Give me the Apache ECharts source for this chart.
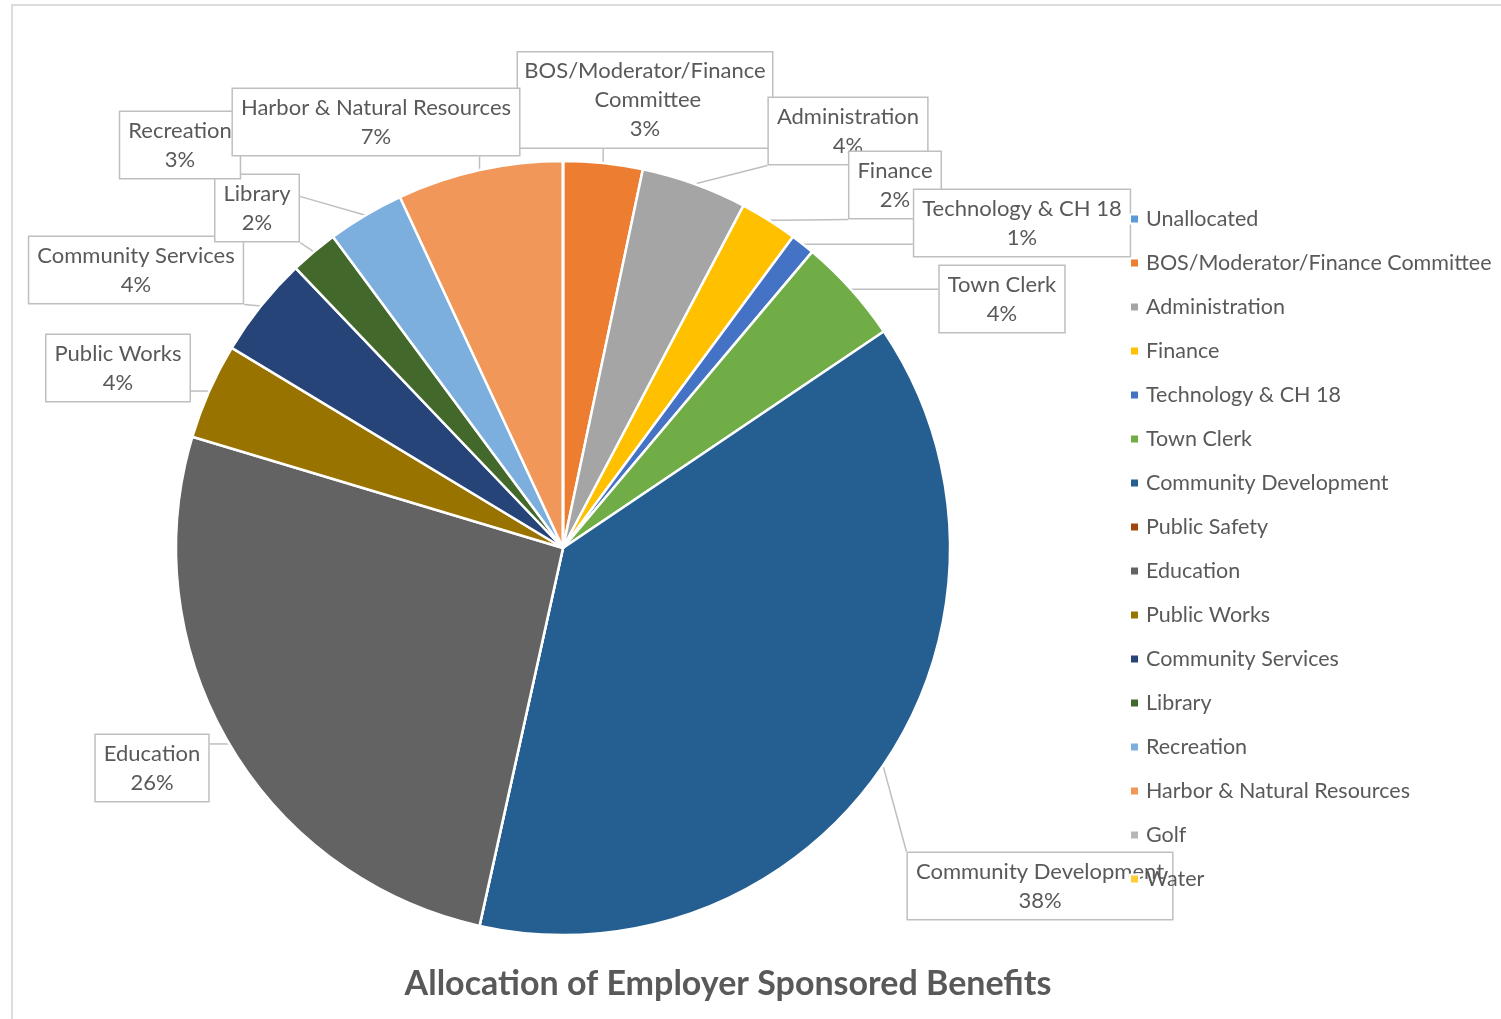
<!DOCTYPE html>
<html>
<head>
<meta charset="utf-8">
<script src="https://cdn.jsdelivr.net/npm/echarts@6/dist/echarts.min.js"></script>
<style>
html,body{margin:0;padding:0;background:#fff;}
#chart{width:1501px;height:1019px;}
</style>
</head>
<body>
<div id="chart"></div>
<script>
// ---- data ----
var categories = ['Unallocated','BOS/Moderator/Finance Committee','Administration','Finance','Technology & CH 18','Town Clerk','Community Development','Public Safety','Education','Public Works','Community Services','Library','Recreation','Harbor & Natural Resources','Golf','Water'];
var shares = [0, 3.3, 4.4, 2.4, 1.0, 4.4, 37.8, 0, 26.1, 4.0, 4.2, 2.0, 3.2, 6.9, 0, 0];
var colors = ['#5B9BD5','#ED7D31','#A5A5A5','#FFC000','#4472C4','#70AD47','#255E91','#9E480E','#636363','#997300','#264478','#43682B','#7CAFDD','#F1975A','#B7B7B7','#FFCD33'];
var title = 'Allocation of Employer Sponsored Benefits';

// ---- layout (label box centres) ----
var labelPos = {
  'BOS/Moderator/Finance Committee': [645, 100],
  'Administration': [848, 131],
  'Finance': [895, 185],
  'Technology & CH 18': [1022, 223],
  'Town Clerk': [1002, 299],
  'Community Development': [1040, 886],
  'Education': [152, 768],
  'Public Works': [118, 368],
  'Community Services': [136, 270],
  'Library': [257, 208],
  'Recreation': [180, 145],
  'Harbor & Natural Resources': [376, 122]
};

var total = shares.reduce(function(a,b){return a+b;},0);
var data = categories.map(function(name, i){
  var item = { name: name, value: shares[i], itemStyle: { color: colors[i] } };
  if (shares[i] === 0) {
    item.label = { show: false };
    item.labelLine = { show: false };
  }
  if (name === 'BOS/Moderator/Finance Committee') {
    item.label = { width: 244, overflow: 'break', padding: [4, 5] };
  }
  return item;
});

var chart = echarts.init(document.getElementById('chart'), null, {renderer: 'canvas'});
var FONT = 'Lato, "Open Sans", sans-serif';
chart.setOption({
  animation: false,
  backgroundColor: '#ffffff',
  color: colors,
  graphic: [{
    type: 'rect', left: 11, top: 4, silent: true, z: -10,
    shape: { width: 1500, height: 1030 },
    style: { fill: '#ffffff', stroke: '#dcdcdc', lineWidth: 2 }
  }],
  title: {
    text: title,
    left: 723, top: 962,
    textAlign: 'center',
    textStyle: { fontFamily: FONT, fontSize: 34, fontWeight: 'bold', color: '#595959' }
  },
  legend: {
    orient: 'vertical',
    left: 1124, top: 202,
    itemWidth: 9, itemHeight: 9, itemGap: 20,
    icon: 'rect',
    data: categories,
    textStyle: { fontFamily: FONT, fontSize: 21.5, color: '#595959', lineHeight: 24, padding: [0,0,0,2] }
  },
  series: [{
    type: 'pie',
    center: [563, 548],
    radius: [0, 387],
    startAngle: 90,
    clockwise: true,
    minAngle: 0,
    avoidLabelOverlap: false,
    data: data,
    itemStyle: { borderColor: '#ffffff', borderWidth: 2.5 },
    label: {
      show: true,
      position: 'outside',
      formatter: function(p){ return p.name + '\n' + Math.round(p.value / total * 100) + '%'; },
      fontFamily: FONT, fontSize: 22, color: '#595959', lineHeight: 29,
      align: 'center',
      backgroundColor: '#ffffff',
      borderColor: '#bfbfbf', borderWidth: 1.5,
      padding: [4, 8]
    },
    labelLine: { show: true, length: 10, length2: 10, lineStyle: { color: '#bfbfbf', width: 1.5 } },
    labelLayout: function(params){
      var name = categories[params.dataIndex];
      var pos = labelPos[name];
      if (!pos || shares[params.dataIndex] === 0) return {};
      var w = params.labelRect.width, h = params.labelRect.height;
      var rx = pos[0] - w/2, ry = pos[1] - h/2;
      var a = params.labelLinePoints ? params.labelLinePoints[0] : [pos[0], pos[1]];
      var nx = Math.min(Math.max(a[0], rx), rx + w);
      var ny = Math.min(Math.max(a[1], ry), ry + h);
      return {
        x: pos[0], y: pos[1],
        align: 'center', verticalAlign: 'middle',
        hideOverlap: false, moveOverlap: null,
        labelLinePoints: [[a[0], a[1]], [(a[0]+nx)/2, (a[1]+ny)/2], [nx, ny]]
      };
    }
  }]
});
</script>
</body>
</html>
